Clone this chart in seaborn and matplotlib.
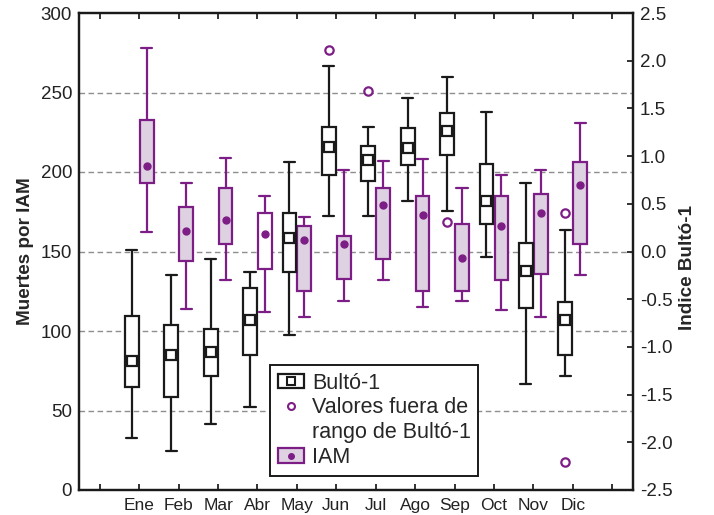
import matplotlib
matplotlib.use('Agg')
import matplotlib.pyplot as plt
import seaborn as sns
import pandas as pd
from matplotlib.patches import Rectangle
from matplotlib.lines import Line2D

months = ["Ene", "Feb", "Mar", "Abr", "May", "Jun", "Jul", "Ago", "Sep", "Oct", "Nov", "Dic"]

# IAM deaths (left axis): whisker low, q1, centre dot, q3, whisker high
iam_wlo = [162, 114, 132, 112, 109, 119, 132, 115, 119, 113, 109, 135]
iam_q1 = [193, 144, 155, 139, 125, 133, 145, 125, 125, 132, 136, 155]
iam_mid = [204, 163, 170, 161, 157, 155, 179, 173, 146, 166, 174, 192]
iam_q3 = [233, 178, 190, 174, 166, 160, 190, 185, 167, 185, 186, 206]
iam_whi = [278, 193, 209, 185, 172, 201, 207, 208, 190, 198, 201, 231]
iam_filled = [True, True, True, False, True, True, True, True, True, True, True, True]

# Bultó-1 index (right axis)
bul_wlo = [-1.96, -2.09, -1.81, -1.63, -0.88, 0.37, 0.37, 0.53, 0.42, -0.06, -1.39, -1.31]
bul_q1 = [-1.42, -1.53, -1.30, -1.08, -0.22, 0.80, 0.74, 0.91, 1.01, 0.29, -0.59, -1.09]
bul_mid = [-1.15, -1.09, -1.05, -0.72, 0.14, 1.10, 0.96, 1.08, 1.26, 0.53, -0.20, -0.72]
bul_q3 = [-0.68, -0.77, -0.81, -0.38, 0.40, 1.30, 1.11, 1.29, 1.45, 0.92, 0.09, -0.53]
bul_whi = [0.02, -0.25, -0.08, -0.21, 0.94, 1.94, 1.31, 1.61, 1.83, 1.46, 0.72, 0.23]

# outliers of Bultó-1
out_month = [6, 7, 9, 12, 12]
out_value = [2.11, 1.68, 0.31, 0.40, -2.21]

purple = "#7d1e86"
lavender = "#ddd1e2"
grey = "#8e8e8e"
ink = "#1a1a1a"

sns.set_theme(style="ticks")
plt.rcParams['font.family'] = ['Liberation Sans', 'DejaVu Sans']
plt.rcParams['font.size'] = 12

fig = plt.figure(figsize=(7.14, 5.15), dpi=100)
ax = fig.add_axes([79 / 714, 25 / 515, 554 / 714, 477 / 515])
ax2 = ax.twinx()

off = 0.19
w = 0.35

iam_stats = []
for i in range(12):
    iam_stats.append(dict(whislo=iam_wlo[i], q1=iam_q1[i], med=iam_mid[i], mean=iam_mid[i],
                          q3=iam_q3[i], whishi=iam_whi[i], fliers=[]))
bul_stats = []
for i in range(12):
    bul_stats.append(dict(whislo=bul_wlo[i], q1=bul_q1[i], med=bul_mid[i], mean=bul_mid[i],
                          q3=bul_q3[i], whishi=bul_whi[i], fliers=[]))

pos = list(range(1, 13))
bp = ax.bxp(iam_stats, positions=[p + off for p in pos], widths=w, capwidths=0.28,
            patch_artist=True, showmeans=True, showfliers=False,
            boxprops=dict(edgecolor=purple, linewidth=1.6),
            whiskerprops=dict(color=purple, linewidth=1.6),
            capprops=dict(color=purple, linewidth=1.6),
            medianprops=dict(linewidth=0),
            meanprops=dict(marker='o', markersize=5, markerfacecolor=purple,
                           markeredgecolor=purple))
for b, filled in zip(bp['boxes'], iam_filled):
    b.set_facecolor(lavender if filled else 'white')

ax2.bxp(bul_stats, positions=[p - off for p in pos], widths=w, capwidths=0.28,
        patch_artist=True, showmeans=True, showfliers=False,
        boxprops=dict(edgecolor=ink, facecolor='white', linewidth=1.6),
        whiskerprops=dict(color=ink, linewidth=1.6),
        capprops=dict(color=ink, linewidth=1.6),
        medianprops=dict(linewidth=0),
        meanprops=dict(marker='s', markersize=6.5, markerfacecolor='white',
                       markeredgecolor=ink, markeredgewidth=1.6))

outliers = pd.DataFrame({"x": [m - off for m in out_month], "y": out_value})
sns.scatterplot(data=outliers, x="x", y="y", ax=ax2, s=36, facecolor='white',
                edgecolor=purple, linewidth=1.6, zorder=5)

ax.set_xlim(-0.53, 13.53)
ax.set_ylim(0, 300)
ax2.set_ylim(-2.5, 2.5)
ax.set_yticks(range(0, 301, 50))
ax2.set_yticks([-2.5 + 0.5 * k for k in range(11)])
ax2.set_yticklabels([f"{-2.5 + 0.5 * k:.1f}" for k in range(11)])
ax.set_xticks(range(0, 14))
ax.set_xticklabels([""] + months + [""])
ax2.set_xlabel("")
ax2.set_ylabel("")

for y in range(50, 300, 50):
    ax.axhline(y, color=grey, linestyle=(0, (4, 2.5)), linewidth=1, zorder=0)

ax.tick_params(axis='y', length=0, pad=5, labelsize=13.5, colors='#222222')
ax.tick_params(axis='x', direction='in', length=4, width=1.3, top=True, pad=6,
               labelsize=12.5, colors='#222222')
ax2.tick_params(axis='y', direction='in', length=4, width=1.3, pad=5, labelsize=13.5,
                colors='#222222')
for a in (ax, ax2):
    for s in a.spines.values():
        s.set_linewidth(1.6)
        s.set_color(ink)

ax.set_ylabel("Muertes por IAM", fontweight='bold', fontsize=13.6, labelpad=5)
fig.text(688 / 714, 248 / 515, "Indice Bultó-1", rotation=90, fontweight='bold',
         fontsize=13.6, ha='center', va='center')

h_bul = (Rectangle((0, 0), 1, 1, facecolor='white', edgecolor=ink, linewidth=1.6),
         Line2D([], [], marker='s', markersize=6, linestyle='none', markerfacecolor='white',
                markeredgecolor=ink, markeredgewidth=1.5))
h_out = Line2D([], [], marker='o', markersize=5, linestyle='none', markerfacecolor='white',
               markeredgecolor=purple, markeredgewidth=1.5)
h_blank = Line2D([], [], linestyle='none')
h_iam = (Rectangle((0, 0), 1, 1, facecolor=lavender, edgecolor=purple, linewidth=1.6),
         Line2D([], [], marker='o', markersize=4, linestyle='none', markerfacecolor=purple,
                markeredgecolor=purple))
leg = ax2.legend([h_bul, h_out, h_blank, h_iam],
                 ["Bultó-1", "Valores fuera de", "rango de Bultó-1", "IAM"],
                 loc='upper left', bbox_to_anchor=(270 / 714, 1 - 365 / 515),
                 bbox_transform=fig.transFigure, fontsize=15.5, frameon=True,
                 fancybox=False, edgecolor=ink, framealpha=1,
                 labelspacing=0.18, handlelength=1.25, handleheight=0.65,
                 handletextpad=0.35, borderpad=0.35, borderaxespad=0)
leg.get_frame().set_linewidth(1.4)

fig.savefig("out.png", dpi=100)
